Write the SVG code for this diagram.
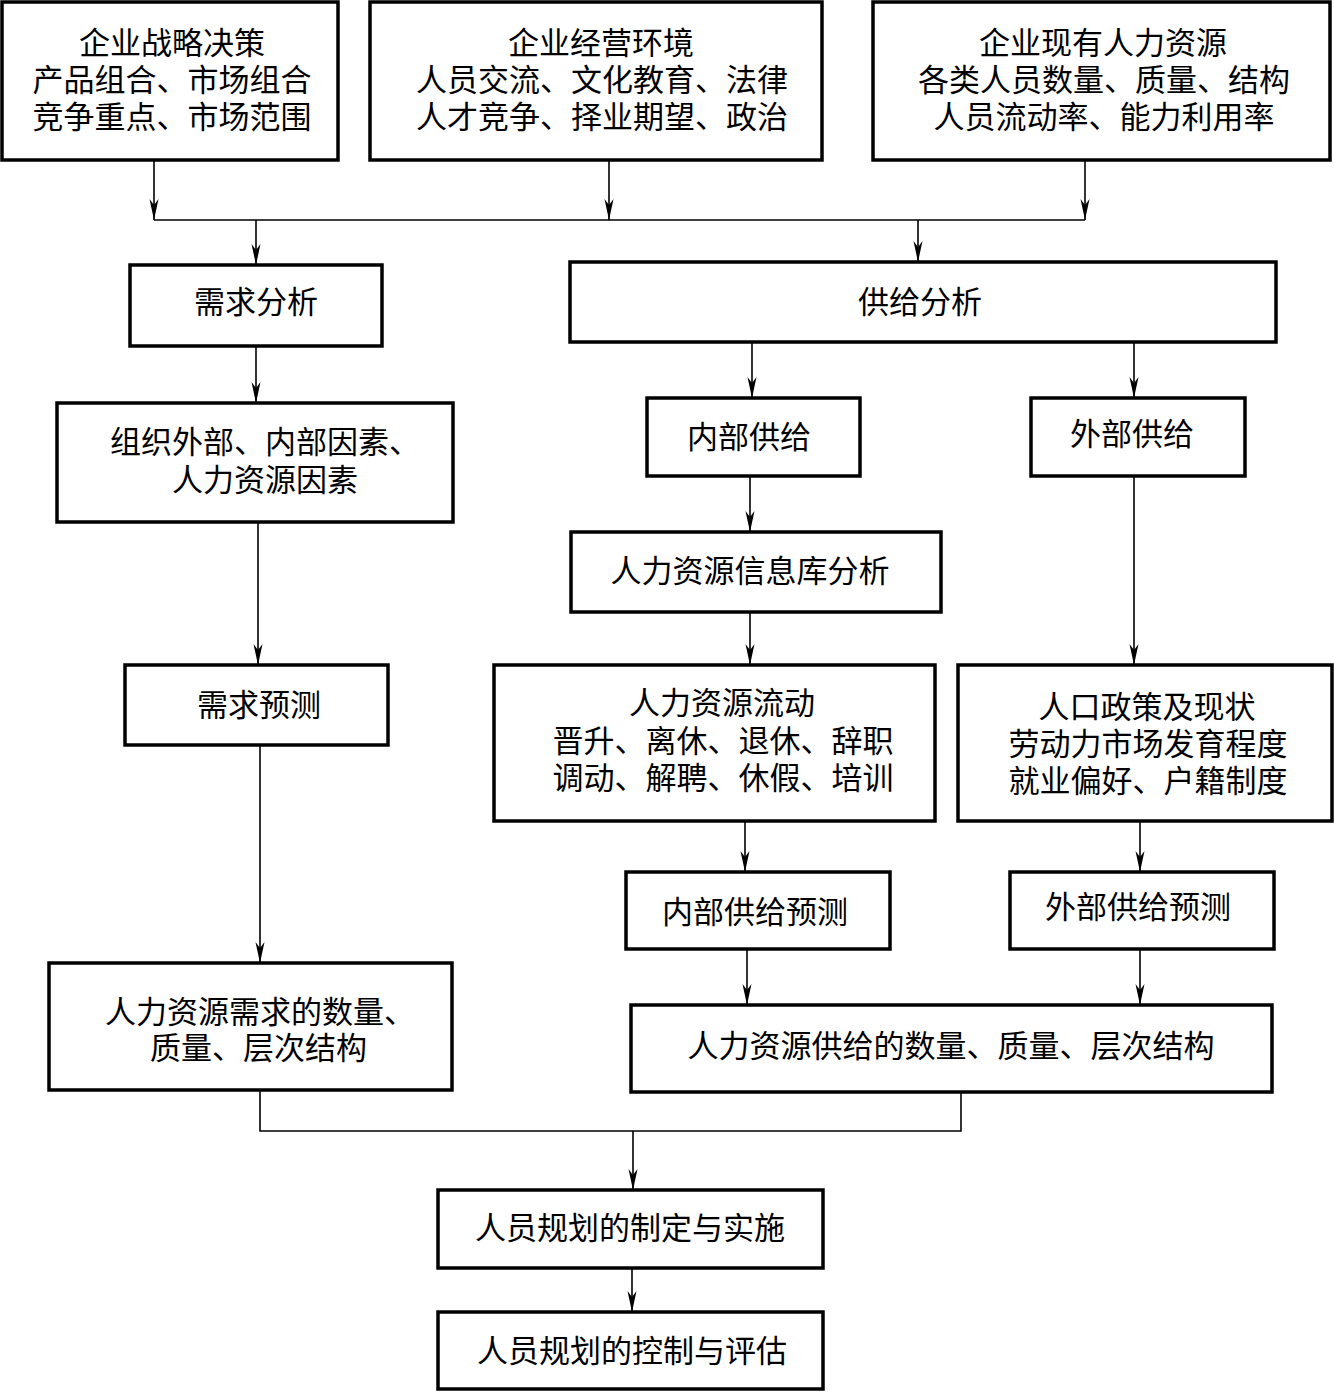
<svg xmlns="http://www.w3.org/2000/svg" width="1334" height="1392" viewBox="0 0 1334 1392">
<style>
.box{fill:#fff;stroke:#000;stroke-width:3.5}
.t{font-family:"Liberation Serif","Noto Sans CJK SC",serif;font-size:31px;fill:#000;text-anchor:middle;dominant-baseline:central}
.s{text-anchor:start}
.c{fill:none;stroke:#000;stroke-width:1.6}
</style>
<defs>
<marker id="ah" markerUnits="userSpaceOnUse" markerWidth="22" markerHeight="10" refX="21" refY="5" orient="auto">
<path d="M0,0.5 L21,5 L0,9.5 L6,5 z" fill="#000"/>
</marker>
</defs>
<rect width="1334" height="1392" fill="#fff"/>
<g id="connectors">
<line class="c" x1="154" y1="160" x2="154" y2="220" marker-end="url(#ah)"/>
<line class="c" x1="609" y1="160" x2="609" y2="220" marker-end="url(#ah)"/>
<line class="c" x1="1085" y1="160" x2="1085" y2="220" marker-end="url(#ah)"/>
<line class="c" x1="154" y1="220" x2="1085" y2="220"/>
<line class="c" x1="256" y1="220" x2="256" y2="265" marker-end="url(#ah)"/>
<line class="c" x1="918" y1="220" x2="918" y2="262" marker-end="url(#ah)"/>
<line class="c" x1="256" y1="346" x2="256" y2="403" marker-end="url(#ah)"/>
<line class="c" x1="258" y1="522" x2="258" y2="665" marker-end="url(#ah)"/>
<line class="c" x1="260" y1="745" x2="260" y2="963" marker-end="url(#ah)"/>
<line class="c" x1="752" y1="342" x2="752" y2="398" marker-end="url(#ah)"/>
<line class="c" x1="1134" y1="342" x2="1134" y2="398" marker-end="url(#ah)"/>
<line class="c" x1="750" y1="476" x2="750" y2="532" marker-end="url(#ah)"/>
<line class="c" x1="750" y1="612" x2="750" y2="665" marker-end="url(#ah)"/>
<line class="c" x1="1134" y1="476" x2="1134" y2="665" marker-end="url(#ah)"/>
<line class="c" x1="745" y1="821" x2="745" y2="872" marker-end="url(#ah)"/>
<line class="c" x1="1140" y1="821" x2="1140" y2="872" marker-end="url(#ah)"/>
<line class="c" x1="747" y1="949" x2="747" y2="1005" marker-end="url(#ah)"/>
<line class="c" x1="1140" y1="949" x2="1140" y2="1005" marker-end="url(#ah)"/>
<polyline class="c" points="260,1090 260,1131 961,1131 961,1092"/>
<line class="c" x1="633" y1="1131" x2="633" y2="1190" marker-end="url(#ah)"/>
<line class="c" x1="632" y1="1268" x2="632" y2="1312" marker-end="url(#ah)"/>
</g>
<g id="n1"><rect class="box" x="2" y="2" width="336" height="158"/>
<text class="t" x="172" y="43">企业战略决策</text><text class="t" x="172" y="80">产品组合、市场组合</text><text class="t" x="172" y="117">竞争重点、市场范围</text></g>
<g id="n2"><rect class="box" x="370" y="2" width="452" height="158"/>
<text class="t" x="601" y="43">企业经营环境</text><text class="t" x="602" y="80">人员交流、文化教育、法律</text><text class="t" x="602" y="117">人才竞争、择业期望、政治</text></g>
<g id="n3"><rect class="box" x="873" y="2" width="457" height="158"/>
<text class="t" x="1103" y="43">企业现有人力资源</text><text class="t" x="1104" y="80">各类人员数量、质量、结构</text><text class="t" x="1104" y="117">人员流动率、能力利用率</text></g>
<g id="n4"><rect class="box" x="130" y="265" width="252" height="81"/>
<text class="t" x="256" y="302">需求分析</text></g>
<g id="n5"><rect class="box" x="570" y="262" width="706" height="80"/>
<text class="t" x="920" y="302">供给分析</text></g>
<g id="n6"><rect class="box" x="57" y="403" width="396" height="119"/>
<text class="t s" x="110" y="442">组织外部、内部因素、</text><text class="t s" x="172" y="480">人力资源因素</text></g>
<g id="n7"><rect class="box" x="125" y="665" width="263" height="80"/>
<text class="t" x="259" y="705">需求预测</text></g>
<g id="n8"><rect class="box" x="49" y="963" width="403" height="127"/>
<text class="t s" x="105" y="1012">人力资源需求的数量、</text><text class="t s" x="150" y="1048">质量、层次结构</text></g>
<g id="n9"><rect class="box" x="647" y="398" width="213" height="78"/>
<text class="t" x="749" y="437">内部供给</text></g>
<g id="n10"><rect class="box" x="1031" y="398" width="214" height="78"/>
<text class="t" x="1132" y="434">外部供给</text></g>
<g id="n11"><rect class="box" x="571" y="532" width="370" height="80"/>
<text class="t" x="750" y="571">人力资源信息库分析</text></g>
<g id="n12"><rect class="box" x="494" y="665" width="441" height="156"/>
<text class="t" x="722" y="703">人力资源流动</text><text class="t" x="723" y="741">晋升、离休、退休、辞职</text><text class="t" x="723" y="778">调动、解聘、休假、培训</text></g>
<g id="n13"><rect class="box" x="958" y="665" width="374" height="156"/>
<text class="t" x="1147" y="707">人口政策及现状</text><text class="t" x="1148" y="744">劳动力市场发育程度</text><text class="t" x="1148" y="781">就业偏好、户籍制度</text></g>
<g id="n14"><rect class="box" x="626" y="872" width="264" height="77"/>
<text class="t" x="755" y="912">内部供给预测</text></g>
<g id="n15"><rect class="box" x="1010" y="872" width="264" height="77"/>
<text class="t" x="1138" y="907">外部供给预测</text></g>
<g id="n16"><rect class="box" x="631" y="1005" width="641" height="87"/>
<text class="t" x="951" y="1046">人力资源供给的数量、质量、层次结构</text></g>
<g id="n17"><rect class="box" x="438" y="1190" width="385" height="78"/>
<text class="t" x="630" y="1228">人员规划的制定与实施</text></g>
<g id="n18"><rect class="box" x="438" y="1312" width="385" height="77"/>
<text class="t" x="632" y="1351">人员规划的控制与评估</text></g>
</svg>
